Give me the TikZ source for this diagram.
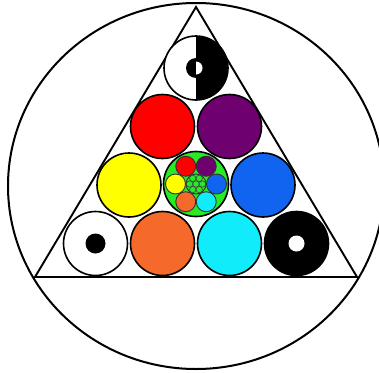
\documentclass[tikz,border=0pt]{standalone}
\usetikzlibrary{calc}
\definecolor{bred}{RGB}{255,0,0}
\definecolor{bpurple}{RGB}{110,0,112}
\definecolor{byellow}{RGB}{255,255,0}
\definecolor{bblue}{RGB}{16,100,240}
\definecolor{borange}{RGB}{245,105,42}
\definecolor{bcyan}{RGB}{16,236,250}
\definecolor{bgreen}{RGB}{40,235,40}
\begin{document}
\begin{tikzpicture}[x=1pt,y=-1pt,
  ballline/.style={draw=black, line width=1.6pt},
  smallline/.style={draw=black!80, line width=0.9pt},
  tinyline/.style={draw=black!75, line width=0.6pt}]
\useasboundingbox (0,0) rectangle (379,372);
\fill[white] (0,0) rectangle (379,372);
% outer circle and triangle
\draw[line width=2pt] (196,186) ellipse [x radius=188pt, y radius=183pt];
\draw[line width=1.9pt, line join=miter] (196,7) -- (35,277) -- (357,277) -- cycle;
% ball centres
\coordinate (b1) at (196,68);
\coordinate (b2) at (162.5,126.5);
\coordinate (b3) at (229.5,126.5);
\coordinate (b4) at (129,185);
\coordinate (b5) at (196,184);
\coordinate (b6) at (263,185);
\coordinate (b7) at (95.5,243.5);
\coordinate (b8) at (162.5,243.5);
\coordinate (b9) at (229.5,243.5);
\coordinate (b10) at (296.5,243.5);
% top ball: half white, half black
\fill[white] (b1) circle[radius=32pt];
\begin{scope}
  \clip (b1) circle[radius=32pt];
  \fill[black] (196,20) rectangle (240,110);
\end{scope}
\begin{scope}
  \clip (150,20) rectangle (196,110);
  \fill[black] (b1) circle[radius=10pt];
\end{scope}
\begin{scope}
  \clip (196,20) rectangle (240,110);
  \fill[white] (b1) circle[radius=6.5pt];
\end{scope}
\draw[ballline] (b1) circle[radius=32pt];
% coloured balls
\filldraw[ballline, fill=bred] (b2) circle[radius=32pt];
\filldraw[ballline, fill=bpurple] (b3) circle[radius=32pt];
\filldraw[ballline, fill=byellow] (b4) circle[radius=32pt];
\filldraw[ballline, fill=bblue] (b6) circle[radius=32pt];
\filldraw[ballline, fill=borange] (b8) circle[radius=32pt];
\filldraw[ballline, fill=bcyan] (b9) circle[radius=32pt];
% white ball with black dot
\filldraw[ballline, fill=white] (b7) circle[radius=32pt];
\fill[black] (b7) circle[radius=10pt];
% black ball with white hole
\filldraw[ballline, fill=black] (b10) circle[radius=32pt];
\fill[white] (b10) circle[radius=8pt];
% centre ball: nested copy
\filldraw[ballline, fill=bgreen] (b5) circle[radius=32.5pt];
\foreach \a/\c in {120/bred, 60/bpurple, 0/bblue, -60/bcyan, -120/borange, 180/byellow}{
  \filldraw[smallline, fill=\c] ($(b5)+(\a:20.5pt)$) circle[radius=10pt];
}
\filldraw[smallline, fill=bgreen] (b5) circle[radius=10pt];
\filldraw[tinyline, fill=bgreen] (b5) circle[radius=3.2pt];
\foreach \a in {0,60,...,300}{
  \filldraw[tinyline, fill=bgreen] ($(b5)+(\a:6.5pt)$) circle[radius=3.2pt];
}
\end{tikzpicture}
\end{document}
